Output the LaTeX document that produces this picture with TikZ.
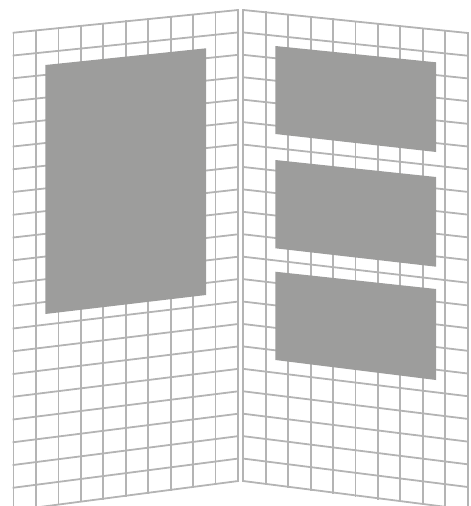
\documentclass[tikz,border=0pt]{standalone}
\definecolor{gridgray}{HTML}{B4B4B4}
\definecolor{boxgray}{HTML}{9D9D9C}
\begin{document}
\begin{tikzpicture}[x=1pt,y=-1pt,
  gridline/.style={draw=gridgray,line width=1.8pt,line cap=rect},
  panelbox/.style={fill=boxgray}]
\useasboundingbox (0,0) rectangle (471,506);
\begin{scope}
\clip (0,0) rectangle (471,506);
% left panel grid
\foreach \i in {0,...,10}{
  \draw[gridline] ({13.5+\i*22.45},{32.7-\i*2.27}) -- ({13.5+\i*22.45},{510.4-\i*2.94});
}
\foreach \i in {0,...,21}{
  \draw[gridline] (13.5,{32.7+\i*22.75}) -- (238,{10+\i*22.43});
}
% right panel grid
\foreach \i in {0,...,10}{
  \draw[gridline] ({243.3+\i*22.44},{10+\i*2.3}) -- ({243.3+\i*22.44},{481+\i*2.94});
}
\foreach \i in {0,...,21}{
  \draw[gridline] (243.3,{10+\i*22.43}) -- (467.7,{33+\i*22.7});
}
\end{scope}
% gray panels
\fill[panelbox] (45.3,65) -- (206,48.3) -- (206,295) -- (45.3,314) -- cycle;
\fill[panelbox] (275.3,46) -- (436,62.3) -- (436,152) -- (275.3,134) -- cycle;
\fill[panelbox] (275.3,160) -- (436,177) -- (436,266.7) -- (275.3,248.3) -- cycle;
\fill[panelbox] (275.3,271.7) -- (436,289) -- (436,380) -- (275.3,360) -- cycle;
\end{tikzpicture}
\end{document}
